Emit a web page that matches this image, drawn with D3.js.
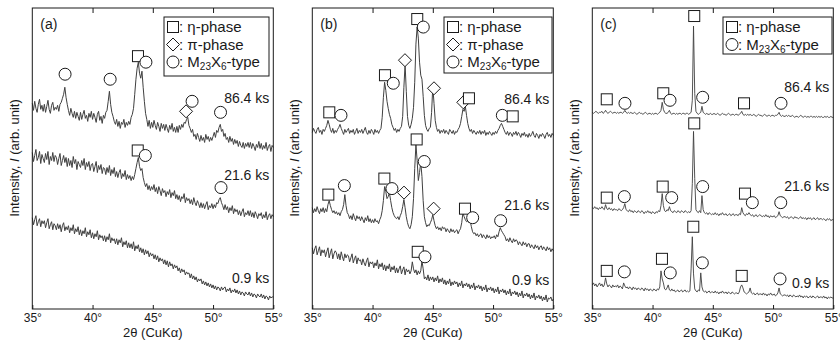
<!DOCTYPE html>
<html>
<head>
<meta charset="utf-8">
<title>XRD patterns</title>
<script src="https://d3js.org/d3.v7.min.js"></script>
<style>
  body { margin: 0; background: #fff; }
  text { font-family: Arial, "Liberation Sans", sans-serif; fill: #1a1a1a; }
</style>
</head>
<body>
<div id="chart"></div>
<script>
const panelNames = ['(a)', '(b)', '(c)'];
const holdTimes = ['86.4 ks', '21.6 ks', '0.9 ks'];
const xTicks = [35, 40, 45, 50, 55];
const angleStart = 35, angleStep = 0.1;   // 2theta grid of every trace

// panel (a): intensity, arb. unit, one row = 1 degree
const a864 = [
205,198,207,200,196,204,209,199,203,197,
204,196,202,208,199,195,203,206,198,201,
199,203,197,204,206,210,214,221,211,204,
198,193,200,195,191,197,190,196,192,188,
196,189,194,198,190,193,187,195,191,197,
189,195,191,186,194,197,188,192,185,193,
190,196,198,207,217,204,196,192,187,184,
189,182,187,180,186,184,189,181,186,183,
187,184,191,194,200,214,229,240,246,235,
230,237,221,207,195,189,182,188,180,186,
181,188,183,179,186,182,177,185,180,184,
178,184,180,176,183,179,185,177,181,176,
182,176,183,179,184,181,186,185,189,191,
183,180,176,179,172,174,169,175,171,167,
173,168,171,166,174,169,172,167,171,168,
172,176,171,178,176,181,184,177,179,172,
175,169,171,166,172,167,170,164,169,165,
168,162,167,163,161,166,160,165,162,166,
161,166,160,165,162,158,164,161,167,160,
165,159,163,160,166,158,162,164,157,163,
161];
const a216 = [
156,147,153,159,148,151,157,145,154,150,
146,155,149,157,144,152,148,156,147,153,
151,144,150,155,143,148,153,146,151,142,
150,143,148,141,152,145,149,139,147,144,
141,148,143,150,139,146,142,147,138,144,
145,137,142,147,136,143,139,144,135,141,
140,134,141,136,143,133,139,135,141,132,
137,131,136,139,130,135,132,138,129,134,
130,133,128,132,129,134,140,146,151,142,
138,140,131,126,122,125,119,123,118,122,
119,124,117,121,115,122,118,113,120,116,
118,112,117,114,119,111,116,113,118,110,
114,109,113,107,112,110,115,106,111,108,
110,105,109,104,111,106,103,108,105,101,
106,101,105,100,104,107,99,103,101,105,
100,104,101,106,105,109,111,106,103,99,
104,99,102,96,101,98,103,95,100,97,
99,94,98,93,97,100,92,96,94,98,
93,98,92,96,91,97,94,90,95,93,
96,90,94,91,97,89,93,95,90,94,
92];
const a09 = [
91,84,89,93,83,87,90,82,88,85,
88,81,86,90,80,84,87,79,85,83,
79,85,80,84,77,83,86,78,82,79,
83,76,81,78,84,75,80,77,82,74,
79,73,78,75,81,72,77,74,79,71,
76,70,75,72,78,69,74,71,73,68,
73,67,72,69,75,66,71,68,70,65,
70,64,69,66,71,62,67,64,68,61,
66,61,65,60,67,58,63,60,64,57,
61,56,60,54,59,55,58,52,56,53,
55,50,54,49,53,47,51,48,50,45,
49,44,48,42,47,43,45,40,44,41,
43,38,41,36,40,37,39,34,37,35,
36,31,35,30,33,29,32,27,30,28,
30,25,28,24,27,23,26,22,25,21,
24,20,23,19,22,21,18,22,19,21,
22,17,20,18,21,16,19,17,20,16,
19,15,18,14,17,16,13,17,15,14,
17,13,16,12,15,14,11,15,13,12,
15,11,14,10,13,12,9,13,11,12,
12];

// panel (b)
const b864 = [
176,180,177,175,179,181,176,178,174,179,
177,180,183,188,184,179,176,180,175,178,
176,179,181,184,180,177,174,179,176,178,
180,175,178,176,179,174,177,180,175,178,
176,179,175,178,181,176,174,178,175,179,
177,174,179,176,178,175,178,180,191,211,
226,218,207,200,194,190,184,181,178,180,
176,179,177,180,182,192,221,244,217,192,
183,180,184,190,201,226,264,281,270,246,
233,229,212,193,183,179,177,180,181,196,
222,205,188,181,177,179,175,178,176,179,
175,178,176,174,179,177,175,178,174,177,
176,179,181,185,192,199,197,202,193,185,
180,177,179,175,178,176,174,177,175,178,
174,177,175,178,173,176,174,177,175,173,
176,174,177,175,178,180,183,185,182,179,
176,174,177,173,176,175,172,176,174,177,
173,176,174,171,175,173,176,172,174,171,
175,172,174,177,173,171,175,173,170,174,
172,175,173,170,174,176,172,174,171,175,
173];
const b216 = [
101,96,100,97,102,98,95,100,97,101,
96,100,97,104,108,103,99,96,98,95,
97,94,96,93,97,99,104,114,103,96,
94,90,93,89,95,91,88,93,90,92,
88,92,89,86,91,88,93,87,90,86,
89,86,90,87,88,85,89,92,98,108,
122,117,110,112,116,108,101,96,93,91,
90,92,89,93,96,102,109,101,92,86,
82,80,84,92,110,140,164,148,128,136,
146,132,108,92,86,82,84,83,86,89,
94,88,83,80,82,79,81,78,82,80,
81,77,80,78,76,80,77,79,76,78,
79,75,78,80,86,96,92,89,87,88,
86,88,82,77,75,76,73,75,72,74,
75,71,74,72,70,74,71,73,70,72,
71,73,70,74,72,77,81,78,76,74,
72,68,70,67,71,68,66,70,67,69,
68,64,67,65,63,67,64,66,62,65,
65,61,64,62,60,64,61,63,59,62,
63,59,62,60,58,62,59,61,57,60,
58];
const b09 = [
61,55,60,63,54,58,62,53,59,56,
59,52,57,61,51,56,60,50,55,58,
56,50,55,49,57,52,48,55,51,54,
53,47,51,55,46,50,53,45,51,48,
49,44,50,46,43,48,51,42,47,45,
47,41,46,43,49,40,45,42,46,39,
44,38,43,40,45,37,42,39,43,36,
41,36,40,43,35,39,42,34,40,37,
39,35,38,47,40,36,39,34,38,35,
38,48,40,30,32,29,34,28,32,29,
32,27,31,28,33,26,30,27,31,25,
29,24,28,25,30,23,27,24,28,25,
27,22,26,23,28,21,25,23,26,22,
25,20,24,21,26,19,23,21,24,20,
23,18,22,19,24,17,21,19,22,18,
21,16,20,17,22,15,19,17,20,16,
19,14,18,15,20,13,17,15,18,14,
17,12,16,13,18,11,15,13,16,12,
15,10,14,11,16,9,13,11,14,10,
13,8,12,9,14,7,11,10,12,8,
10];

// panel (c)
const c864 = [
196,195,196,197,196,195,196,196,197,195,
196,198,196,195,196,197,196,195,196,196,
195,196,195,196,196,195,196,198,196,195,
196,195,196,195,195,196,195,194,195,196,
195,195,194,195,196,195,194,195,195,194,
195,194,195,195,194,195,196,198,206,199,
196,195,195,196,198,195,194,195,195,194,
195,194,195,195,194,195,195,194,195,195,
194,195,196,208,282,215,197,195,194,195,
196,202,196,195,194,195,194,194,195,194,
194,195,194,194,195,194,193,194,195,194,
194,193,194,195,194,193,194,194,193,194,
194,193,194,195,197,194,193,194,193,194,
193,194,193,193,194,193,192,193,194,193,
193,192,193,194,193,192,193,193,192,193,
193,192,193,193,194,196,193,192,193,192,
192,193,192,193,192,192,193,192,191,192,
192,191,192,193,192,191,192,192,191,192,
191,192,192,191,192,191,192,191,192,191,
192,191,191,192,191,192,191,191,192,191,
191];
const c216 = [
101,100,102,100,101,99,101,100,102,100,
99,104,100,99,101,99,100,98,100,99,
99,98,100,99,98,99,101,105,99,98,
97,99,97,98,96,98,97,96,98,97,
96,98,97,95,97,96,98,96,97,95,
97,96,95,97,96,98,97,103,115,103,
98,97,99,98,102,98,97,96,98,97,
96,98,97,96,98,97,96,98,97,96,
97,96,98,125,177,130,99,97,96,98,
96,113,99,96,95,96,94,96,95,94,
95,94,96,94,95,93,95,94,96,94,
94,95,93,94,95,93,94,95,93,94,
94,93,95,94,101,96,94,93,95,94,
96,94,93,94,92,93,94,92,93,94,
93,92,93,92,94,92,93,91,93,92,
92,93,91,92,93,97,93,92,91,92,
92,91,92,90,91,92,91,90,92,91,
91,90,91,92,90,91,90,91,89,91,
90,91,89,90,91,89,90,91,89,90,
90,89,90,89,88,90,89,90,88,89,
89];
const c09 = [
24,26,23,25,22,24,26,23,25,22,
24,31,25,22,24,23,21,24,22,23,
22,24,21,23,22,20,26,23,21,22,
20,22,21,19,22,20,21,19,21,20,
19,21,20,18,21,19,20,18,20,19,
18,20,19,18,20,19,22,38,30,26,
20,19,21,24,19,18,20,18,19,17,
18,19,17,18,19,17,18,19,17,18,
17,18,40,72,35,20,18,17,19,18,
36,22,18,17,18,16,17,18,16,17,
17,16,18,16,17,15,17,16,18,16,
16,17,15,17,16,15,17,16,15,16,
16,15,17,22,24,21,17,16,15,16,
17,21,16,15,16,14,15,16,14,15,
15,14,16,14,15,13,15,14,16,14,
14,15,13,14,16,21,15,14,13,14,
14,13,14,12,14,13,12,14,13,12,
13,12,14,12,13,11,13,12,13,11,
12,13,11,13,12,11,12,13,11,12,
12,11,13,11,12,10,12,11,12,11,
11];

// peak identification: [phase, 2theta, intensity level]
const aMarks = [
  ['m23', 37.72, 234], ['m23', 41.46, 229], ['eta', 43.77, 252], ['m23', 44.43, 246],
  ['pi', 47.76, 197], ['m23', 48.26, 207], ['m23', 50.62, 196],
  ['eta', 43.75, 158], ['m23', 44.38, 153], ['m23', 50.66, 121]
];
const bMarks = [
  ['eta', 36.41, 196], ['m23', 37.38, 193], ['eta', 41.03, 233], ['m23', 41.72, 225],
  ['pi', 42.69, 248], ['eta', 43.71, 289], ['m23', 44.21, 281], ['pi', 45.10, 220],
  ['pi', 47.53, 206], ['eta', 48.00, 210], ['m23', 50.77, 193], ['eta', 51.63, 192],
  ['eta', 43.66, 169], ['m23', 44.29, 147], ['eta', 36.33, 114], ['m23', 37.66, 123],
  ['eta', 40.98, 130], ['m23', 41.61, 120], ['pi', 42.61, 116], ['pi', 45.07, 100],
  ['eta', 47.67, 100], ['m23', 48.31, 91], ['m23', 50.63, 88],
  ['eta', 43.75, 57], ['m23', 44.35, 52]
];
const cMarks = [
  ['eta', 43.46, 292], ['eta', 36.20, 209], ['m23', 37.71, 205], ['eta', 40.89, 215],
  ['m23', 41.45, 208], ['m23', 44.16, 211], ['eta', 47.59, 205], ['m23', 50.66, 205],
  ['eta', 43.46, 185], ['eta', 36.20, 111], ['m23', 37.66, 112], ['eta', 40.84, 122],
  ['m23', 41.59, 111], ['m23', 44.16, 122], ['eta', 47.67, 115], ['m23', 48.28, 106],
  ['m23', 50.64, 106],
  ['eta', 43.38, 82], ['eta', 36.20, 38], ['m23', 37.66, 37], ['eta', 40.78, 50],
  ['m23', 41.47, 36], ['m23', 44.13, 46], ['eta', 47.40, 33], ['m23', 50.58, 30]
];
const legendAB = ['eta', 'pi', 'm23'];
const legendC = ['eta', 'm23'];
const labelLevelsA = [205, 129, 26];
const labelLevelsB = [204, 99, 24];
const labelLevelsC = [216, 118, 21];

// layout
const W = 840, H = 345;
const plotTop = 8, plotBottom = 309, plotW = 241;
const panelLeft = [32.3, 312.3, 592.3];
const legendBox = [[164, 17, 105, 59], [444, 17, 108, 56], [723, 17, 109, 37]];

const panels = [
  {traces: [a864, a216, a09], marks: aMarks, legend: legendAB, levels: labelLevelsA},
  {traces: [b864, b216, b09], marks: bMarks, legend: legendAB, levels: labelLevelsB},
  {traces: [c864, c216, c09], marks: cMarks, legend: legendC, levels: labelLevelsC}
];

const svg = d3.select('#chart').append('svg')
    .attr('width', W)
    .attr('height', H);

const y = d3.scaleLinear().domain([0, 300]).range([plotBottom, plotTop]);

function drawMark(g, type, cx, cy) {
  const s = g.append('g').attr('transform', `translate(${cx},${cy})`);
  if (type === 'eta') {
    s.append('rect').attr('x', -5.5).attr('y', -5.5).attr('width', 11).attr('height', 11);
  } else if (type === 'pi') {
    s.append('path').attr('d', 'M0,-6.5L6.5,0L0,6.5L-6.5,0Z');
  } else {
    s.append('circle').attr('r', 6);
  }
  s.selectAll('*').attr('fill', '#fff').attr('stroke', '#1a1a1a').attr('stroke-width', 1);
}

function legendText(t, type) {
  t.append('tspan').text(': ');
  if (type === 'eta') t.append('tspan').text('η-phase');
  else if (type === 'pi') t.append('tspan').text('π-phase');
  else {
    t.append('tspan').text('M');
    t.append('tspan').attr('font-size', 10).attr('dy', 3).text('23');
    t.append('tspan').attr('dy', -3).text('X');
    t.append('tspan').attr('font-size', 10).attr('dy', 3).text('6');
    t.append('tspan').attr('dy', -3).text('-type');
  }
}

panels.forEach((p, k) => {
  const left = panelLeft[k];
  const x = d3.scaleLinear().domain([35, 55]).range([left, left + plotW]);
  const g = svg.append('g');

  const line = d3.line()
      .x((d, i) => x(angleStart + i * angleStep))
      .y(d => y(d));

  p.traces.forEach(tr => {
    g.append('path')
        .datum(tr)
        .attr('fill', 'none')
        .attr('stroke', '#404040')
        .attr('stroke-width', k === 2 ? 0.9 : 1)
        .attr('stroke-linejoin', 'round')
        .attr('d', line);
  });

  p.marks.forEach(m => drawMark(g, m[0], x(m[1]), y(m[2])));

  // hold time labels
  p.levels.forEach((lv, i) => {
    g.append('text')
        .attr('x', left + plotW - 4)
        .attr('y', y(lv))
        .attr('text-anchor', 'end')
        .attr('font-size', 14)
        .text(holdTimes[i]);
  });

  // axes
  const bottomAxis = d3.axisBottom(x)
      .tickValues(xTicks)
      .tickSizeInner(-4)
      .tickSizeOuter(0)
      .tickPadding(4)
      .tickFormat(d => d + '°');
  const ax = g.append('g')
      .attr('transform', `translate(0,${plotBottom})`)
      .call(bottomAxis);
  ax.select('.domain').remove();
  ax.selectAll('text').attr('font-size', 12).attr('fill', '#1a1a1a').attr('font-family', 'Arial, "Liberation Sans", sans-serif');
  ax.selectAll('line').attr('stroke', '#1a1a1a');

  const topAxis = d3.axisTop(x)
      .tickValues([40, 45, 50])
      .tickSizeInner(-5)
      .tickSizeOuter(0)
      .tickFormat('');
  const at = g.append('g')
      .attr('transform', `translate(0,${plotTop})`)
      .call(topAxis);
  at.select('.domain').remove();
  at.selectAll('line').attr('stroke', '#1a1a1a');

  g.append('rect')
      .attr('x', left)
      .attr('y', plotTop)
      .attr('width', plotW)
      .attr('height', plotBottom - plotTop)
      .attr('fill', 'none')
      .attr('stroke', '#1a1a1a')
      .attr('stroke-width', 1);

  g.append('text')
      .attr('x', left + plotW / 2)
      .attr('y', 337)
      .attr('text-anchor', 'middle')
      .attr('font-size', 13)
      .text('2θ (CuKα)');

  const yl = g.append('text')
      .attr('transform', `translate(${left - 13},158) rotate(-90)`)
      .attr('text-anchor', 'middle')
      .attr('font-size', 13);
  yl.append('tspan').text('Intensity, ');
  yl.append('tspan').attr('font-style', 'italic').text('I');
  yl.append('tspan').text(' (arb. unit)');

  g.append('text')
      .attr('x', left + 8)
      .attr('y', 29)
      .attr('font-size', 14)
      .text(panelNames[k]);

  // legend
  const lb = legendBox[k];
  g.append('rect')
      .attr('x', lb[0]).attr('y', lb[1])
      .attr('width', lb[2]).attr('height', lb[3])
      .attr('fill', '#fff')
      .attr('stroke', '#1a1a1a');
  p.legend.forEach((type, i) => {
    const cy = lb[1] + 10 + i * 17.5;
    drawMark(g, type, lb[0] + 9, cy);
    const t = g.append('text')
        .attr('x', lb[0] + 15)
        .attr('y', cy + 5)
        .attr('font-size', 15);
    legendText(t, type);
  });
});
</script>
</body>
</html>
